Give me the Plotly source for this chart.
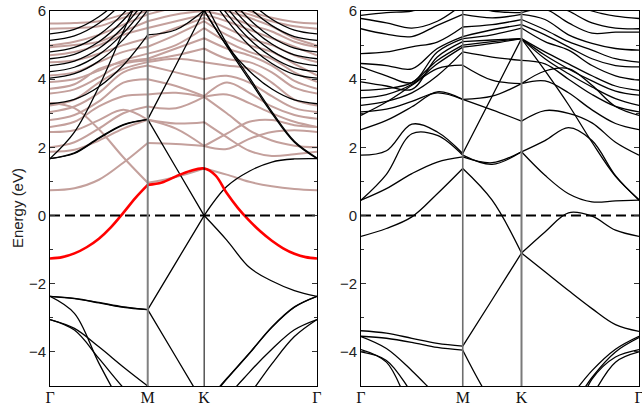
import plotly.graph_objects as go

# ---------------- k-path (shared by both panels) ----------------
k_path = [0.0, 0.1443, 0.2887, 0.4330, 0.5774,      # Gamma -> M
          0.7440, 0.9107,                            # M -> K
          1.0440, 1.1774, 1.3107, 1.4440, 1.5774]    # K -> Gamma
k_ticks = [0.0, 0.5774, 0.9107, 1.5774]
k_labels = ["Γ", "M", "K", "Γ"]
y_ticks = [-4, -2, 0, 2, 4, 6]

# finer k-grid used for the highlighted band
k_red = [0.0, 0.0722, 0.1443, 0.2165, 0.2887, 0.3608, 0.4330, 0.5052, 0.5774,
         0.6607, 0.7440, 0.8274, 0.9107,
         0.9774, 1.0440, 1.1107, 1.1774, 1.2440, 1.3107, 1.3774, 1.4440, 1.5107, 1.5774]
L_red = [-1.26, -1.22, -1.11, -0.93, -0.68, -0.34, 0.08, 0.52, 0.90,
         0.97, 1.15, 1.31, 1.38,
         1.18, 0.66, 0.22, -0.15, -0.47, -0.74, -0.96, -1.12, -1.22, -1.26]

# ---------------- left panel: black bands ----------------
L_c1 = [1.67, 1.82, 2.26, 2.65, 2.82, 1.41, 0.00, 0.85, 1.30, 1.57, 1.66, 1.67]
L_u = [1.67, 1.84, 2.28, 2.67, 2.82, 4.41, 6.02, 4.97, 3.98, 3.00, 2.15, 1.67]
L_s = [1.67, 2.45, 3.78, 5.40, 7.00, 6.60, 6.30, 5.05, 4.05, 3.05, 2.18, 1.69]
L_v1 = [-2.37, -2.43, -2.55, -2.68, -2.76, -1.38, 0.00, -0.72, -1.52, -1.92, -2.20, -2.37]
L_v2 = [-2.37, -2.44, -2.56, -2.69, -2.76, -4.15, -5.54, -4.78, -4.04, -3.27, -2.68, -2.37]
L_v3 = [-3.05, -3.36, -4.19, -5.05, -5.80, -6.50, -7.00, -5.40, -4.60, -3.92, -3.35, -3.05]
L_v4 = [-3.05, -3.31, -3.85, -4.44, -5.00, -5.80, -6.50, -6.00, -5.25, -4.35, -3.55, -3.05]
L_v5 = [-2.37, -2.87, -4.33, -5.60, -6.50, -6.20, -5.60, -4.80, -4.05, -3.28, -2.69, -2.37]
L_t = [3.28, 3.41, 3.78, 4.41, 5.30, 5.45, 6.02, 4.99, 4.24, 3.71, 3.39, 3.28]
L_f1 = [4.03, 4.16, 4.53, 5.16, 6.03, 6.20, 6.70, 5.74, 4.99, 4.46, 4.14, 4.03]
L_f2 = [4.22, 4.35, 4.72, 5.35, 6.22, 6.39, 6.89, 5.93, 5.18, 4.65, 4.33, 4.22]
L_f3 = [4.40, 4.53, 4.90, 5.53, 6.40, 6.57, 7.07, 6.11, 5.36, 4.83, 4.51, 4.40]
L_f4 = [4.60, 4.73, 5.10, 5.73, 6.60, 6.77, 7.27, 6.31, 5.56, 5.03, 4.71, 4.60]
L_f5 = [4.80, 4.93, 5.30, 5.93, 6.80, 6.97, 7.47, 6.51, 5.76, 5.23, 4.91, 4.80]
L_f6 = [5.14, 5.27, 5.64, 6.27, 7.14, 7.31, 7.81, 6.85, 6.10, 5.57, 5.25, 5.14]
L_f7 = [5.33, 5.46, 5.83, 6.46, 7.33, 7.50, 8.00, 7.04, 6.29, 5.76, 5.44, 5.33]

# ---------------- left panel: pink bands ----------------
P01 = [0.74, 0.80, 1.05, 1.55, 2.13, 2.10, 2.04, 2.40, 2.75, 2.80, 2.65, 2.60]
P02 = [3.30, 3.15, 2.53, 1.71, 0.96, 1.13, 1.38, 1.20, 0.99, 0.86, 0.78, 0.74]
P03 = [1.87, 1.93, 2.20, 2.55, 2.81, 2.70, 2.74, 2.30, 1.90, 1.75, 1.80, 1.87]
P04 = [2.00, 2.15, 2.55, 3.00, 3.20, 3.15, 3.48, 3.00, 2.50, 2.20, 2.05, 2.00]
P05 = [2.45, 2.50, 2.80, 3.10, 2.81, 2.55, 2.04, 1.95, 2.25, 2.45, 2.50, 2.45]
P06 = [2.60, 2.75, 3.20, 3.50, 3.55, 3.60, 3.48, 3.55, 3.30, 3.00, 2.75, 2.60]
P07 = [2.80, 2.95, 3.35, 3.90, 4.00, 3.80, 3.50, 3.90, 3.60, 3.20, 2.95, 2.84]
P08 = [3.04, 3.20, 3.60, 4.20, 4.40, 4.20, 4.00, 4.10, 3.90, 3.50, 3.15, 3.04]
P09 = [3.23, 3.40, 3.90, 4.30, 4.50, 4.60, 4.50, 4.40, 4.30, 3.90, 3.40, 3.23]
P10 = [3.58, 3.70, 4.05, 4.45, 4.55, 4.70, 4.90, 4.60, 4.50, 4.20, 3.75, 3.58]
P11 = [3.72, 3.85, 4.30, 4.50, 4.60, 4.90, 5.20, 4.90, 4.70, 4.40, 3.95, 3.72]
P12 = [3.92, 4.00, 4.25, 4.55, 4.75, 5.00, 5.50, 5.10, 4.80, 4.60, 4.20, 3.92]
P13 = [4.11, 4.20, 4.50, 4.80, 4.95, 5.30, 5.70, 5.30, 5.00, 4.80, 4.45, 4.11]
P14 = [4.50, 4.55, 4.75, 5.00, 5.20, 5.50, 5.80, 5.50, 5.20, 5.00, 4.70, 4.50]
P15 = [4.70, 4.80, 5.00, 5.30, 5.50, 5.70, 5.90, 5.70, 5.45, 5.20, 4.95, 4.70]
P16 = [4.94, 5.00, 5.10, 5.40, 5.70, 5.90, 6.00, 5.85, 5.60, 5.40, 5.10, 4.94]
P17 = [4.99, 5.10, 5.30, 5.60, 5.90, 6.10, 6.20, 6.00, 5.80, 5.55, 5.20, 4.99]
P18 = [5.48, 5.50, 5.55, 5.80, 6.00, 6.20, 6.30, 6.10, 5.90, 5.70, 5.55, 5.48]
P19 = [5.63, 5.65, 5.70, 5.90, 6.10, 6.30, 6.40, 6.30, 6.00, 5.80, 5.68, 5.63]

# ---------------- right panel bands ----------------
R_v1 = [-3.38, -3.45, -3.60, -3.75, -3.83, -2.47, -1.10, -1.65, -2.20, -2.73, -3.20, -3.40]
R_v2 = [-3.54, -3.60, -3.72, -3.87, -3.95, -5.50, -6.60, -6.30, -5.40, -4.55, -3.92, -3.54]
R_v3 = [-3.55, -3.90, -4.55, -5.30, -6.00, -6.50, -7.00, -6.80, -5.80, -4.75, -4.00, -3.58]
R_v4 = [-3.93, -4.30, -5.70, -6.60, -7.00, -7.00, -7.00, -7.00, -6.30, -4.80, -4.15, -3.93]
R_v5 = [-4.00, -4.25, -5.20, -6.20, -7.00, -7.00, -7.00, -7.00, -6.50, -5.30, -4.30, -4.00]
R_a = [-0.61, -0.38, -0.04, 0.64, 1.38, 0.45, -1.10, -0.48, 0.08, -0.02, -0.43, -0.61]
R_b1 = [0.45, 0.79, 1.23, 1.57, 1.72, 1.55, 1.87, 2.20, 2.58, 2.20, 1.17, 0.45]
R_b2 = [0.45, 1.21, 2.40, 2.35, 1.77, 1.50, 1.87, 1.18, 0.64, 0.40, 0.43, 0.45]
R_c = [1.77, 1.90, 2.68, 2.45, 1.82, 3.50, 5.19, 4.25, 3.25, 2.15, 1.15, 0.47]
R_d = [2.52, 2.79, 3.19, 3.63, 3.41, 3.10, 2.77, 3.08, 3.00, 2.72, 2.15, 1.77]
R_e = [2.94, 3.33, 3.82, 4.31, 4.41, 3.97, 3.87, 4.24, 4.31, 3.82, 3.20, 2.94]
R_f = [3.04, 3.12, 3.35, 3.60, 3.41, 3.50, 3.87, 3.95, 3.60, 3.10, 2.70, 2.52]
R_g = [3.23, 3.35, 3.60, 4.10, 4.80, 4.65, 4.55, 4.45, 4.00, 3.55, 3.20, 3.04]
R_h = [3.45, 3.55, 3.85, 4.45, 4.94, 5.05, 5.19, 4.60, 4.16, 3.77, 3.43, 3.23]
R_i = [3.67, 3.72, 3.90, 4.55, 5.00, 5.10, 5.19, 4.70, 4.30, 3.95, 3.65, 3.53]
R_j = [3.92, 3.80, 3.70, 4.65, 5.10, 5.15, 5.19, 4.80, 4.45, 4.10, 3.80, 3.67]
R_k = [4.36, 4.10, 3.90, 4.80, 5.19, 5.30, 5.50, 5.10, 4.85, 4.40, 4.10, 3.97]
R_l = [4.46, 4.40, 4.30, 4.90, 5.25, 5.45, 5.60, 5.30, 4.95, 4.60, 4.40, 4.36]
R_m = [4.75, 4.80, 4.95, 5.09, 5.53, 5.60, 5.75, 5.45, 5.10, 4.85, 4.60, 4.50]
R_n = [5.48, 5.32, 5.25, 5.58, 5.90, 5.80, 5.90, 5.75, 5.30, 5.05, 4.90, 4.85]
R_o = [5.78, 5.65, 5.50, 5.70, 6.20, 6.00, 5.95, 6.05, 5.65, 5.35, 5.38, 5.38]
R_p = [5.87, 5.95, 6.00, 6.20, 6.40, 6.30, 6.10, 6.30, 6.00, 5.65, 5.50, 5.48]
R_q = [6.10, 6.20, 6.30, 6.50, 6.60, 6.50, 6.30, 6.50, 6.30, 6.00, 5.85, 5.78]

left_black = [L_c1, L_u, L_s, L_v1, L_v2, L_v3, L_v4, L_v5, L_t,
              L_f1, L_f2, L_f3, L_f4, L_f5, L_f6, L_f7]
left_pink = [P01, P02, P03, P04, P05, P06, P07, P08, P09, P10,
             P11, P12, P13, P14, P15, P16, P17, P18, P19]
right_black = [R_v1, R_v2, R_v3, R_v4, R_v5, R_a, R_b1, R_b2, R_c, R_d, R_e,
               R_f, R_g, R_h, R_i, R_j, R_k, R_l, R_m, R_n, R_o, R_p, R_q]

BLACK = "#000000"
PINK = "#c4a09c"
RED = "#ff0000"
FONT = "Liberation Sans, Arial, sans-serif"


def segmented(kx, vals, cuts):
    xs, ys = [], []
    for a, b in cuts:
        xs += kx[a:b + 1] + [None]
        ys += vals[a:b + 1] + [None]
    return xs, ys


fig = go.Figure()


def add_band(kx, vals, cuts, color, width, xa, ya):
    xs, ys = segmented(kx, vals, cuts)
    fig.add_trace(go.Scatter(x=xs, y=ys, mode="lines", xaxis=xa, yaxis=ya,
                             line=dict(color=color, width=width, shape="spline", smoothing=1.0),
                             connectgaps=False, hoverinfo="skip", showlegend=False))


CUTS = [(0, 4), (4, 6), (6, 11)]
for b in left_pink:
    add_band(k_path, b, CUTS, PINK, 2.0, "x", "y")
for b in left_black:
    add_band(k_path, b, CUTS, BLACK, 1.3, "x", "y")
add_band(k_red, L_red, [(0, 8), (8, 22)], RED, 2.6, "x", "y")
for b in right_black:
    add_band(k_path, b, CUTS, BLACK, 1.3, "x2", "y2")

# Fermi level
for xa, ya in [("x", "y"), ("x2", "y2")]:
    fig.add_trace(go.Scatter(x=[k_ticks[0], k_ticks[-1]], y=[0, 0], mode="lines",
                             xaxis=xa, yaxis=ya, hoverinfo="skip", showlegend=False,
                             line=dict(color=BLACK, width=2, dash="10px,5px")))

# high-symmetry vertical lines
vl = [("x", "y", k_ticks[1], "#808080", 2.0), ("x", "y", k_ticks[2], "#000000", 1.0),
      ("x2", "y2", k_ticks[1], "#6e6e6e", 1.6), ("x2", "y2", k_ticks[2], "#7a7a7a", 2.0)]
for xa, ya, xv, col, w in vl:
    fig.add_shape(type="line", xref=xa, yref=ya, x0=xv, x1=xv, y0=-5, y1=6,
                  line=dict(color=col, width=w), layer="above")

tickfont = dict(family=FONT, size=15, color="#222222")
xfont = dict(family="Liberation Serif, Times New Roman, serif", size=16, color="#111111")

yax = dict(range=[-5, 6], tickvals=y_ticks, ticks="inside", ticklen=5, tickwidth=1,
           tickcolor="#333333", mirror="allticks", showline=True, linecolor=BLACK,
           linewidth=1, showgrid=False, zeroline=False, tickfont=tickfont, automargin=False,
           ticklabeloverflow="allow",
           minor=dict(dtick=1, ticks="inside", ticklen=3, tickcolor="#333333", showgrid=False))
xax = dict(range=[0, 1.5774], tickvals=k_ticks, ticktext=k_labels, ticks="", ticklen=0,
           ticklabelstandoff=-3, showline=True, mirror=True, linecolor=BLACK, linewidth=1,
           showgrid=False, zeroline=False, tickfont=xfont, automargin=False,
           ticklabeloverflow="allow")

fig.update_layout(
    width=642, height=409,
    margin=dict(l=50, r=3, t=11, b=23),
    paper_bgcolor="white", plot_bgcolor="white",
    showlegend=False,
    xaxis=dict(domain=[0.0, 0.4533], **xax),
    xaxis2=dict(domain=[0.528, 1.0], **xax),
    yaxis=dict(anchor="x", **yax),
    yaxis2=dict(anchor="x2", **yax),
    annotations=[dict(text="Energy (eV)", xref="paper", yref="paper", x=-0.054, y=0.475,
                      xanchor="center", yanchor="middle", textangle=-90, showarrow=False,
                      font=dict(family=FONT, size=15, color="#222222"))],
)

# remove the default page margin so the 642x409 figure fills the window exactly
fig.write_html("out.html", config={"displayModeBar": False, "staticPlot": True},
               post_script="document.body.style.margin='0';document.body.style.overflow='hidden';")
